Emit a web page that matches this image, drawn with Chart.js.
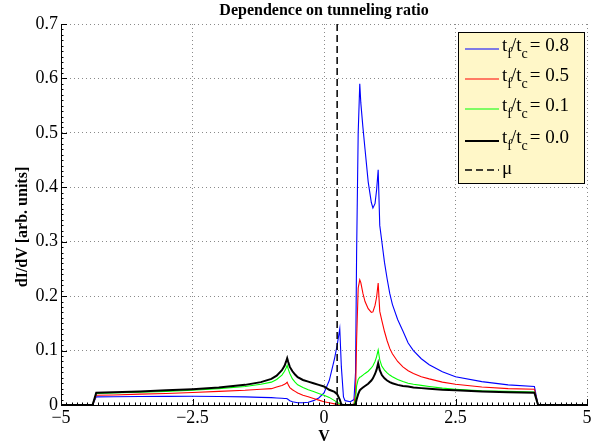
<!DOCTYPE html>
<html><head><meta charset="utf-8">
<script src="https://cdn.jsdelivr.net/npm/chart.js@4/dist/chart.umd.min.js"></script>
<style>html,body{margin:0;padding:0;background:#fff;overflow:hidden}</style>
</head><body>
<canvas id="c" width="592" height="447"></canvas>
<script>
// ---- data ----
const V = [-5, -4.4, -4.33, -4.0, -3.5, -3.0, -2.5, -2.0, -1.5, -1.2, -1.0, -0.9, -0.8, -0.75, -0.72, -0.70, -0.68, -0.65, -0.6, -0.55, -0.5, -0.4, -0.3, -0.2, -0.1, 0.0, 0.1, 0.2, 0.25, 0.3, 0.33, 0.37, 0.4, 0.5, 0.57, 0.6, 0.62, 0.65, 0.68, 0.70, 0.74, 0.78, 0.84, 0.9, 0.93, 0.97, 1.0, 1.03, 1.06, 1.1, 1.15, 1.2, 1.25, 1.3, 1.4, 1.5, 1.6, 1.7, 1.85, 2.0, 2.25, 2.5, 3.0, 3.5, 4.0, 4.07, 5];

const ratio08 = [0, 0, 0.015, 0.0152, 0.0155, 0.0158, 0.016, 0.0155, 0.015, 0.014, 0.0135, 0.013, 0.0125, 0.012, 0.012, 0.0115, 0.010, 0.008, 0.006, 0.005, 0.004, 0.004, 0.005, 0.008, 0.013, 0.022, 0.045, 0.085, 0.11, 0.14, 0.07, 0.015, 0.008, 0.006, 0.01, 0.06, 0.28, 0.50, 0.59,
  0.555, 0.51, 0.47, 0.41, 0.372, 0.362, 0.37, 0.395, 0.432, 0.33, 0.30, 0.262, 0.232, 0.205, 0.185, 0.157, 0.136, 0.114, 0.100, 0.085, 0.074, 0.061, 0.052, 0.043, 0.037, 0.034, 0, 0];

const ratio05 = [0, 0, 0.018, 0.0185, 0.020, 0.021, 0.023, 0.025, 0.027, 0.029, 0.030, 0.033, 0.036, 0.038, 0.040, 0.042, 0.037, 0.032, 0.028, 0.025, 0.022, 0.018, 0.015, 0.012, 0.009, 0.006, 0.004, 0.002, 0.001, 0, 0, 0, 0, 0, 0.002, 0.02, 0.12, 0.215, 0.23,
  0.225, 0.205, 0.19, 0.177, 0.170, 0.171, 0.183, 0.198, 0.224, 0.172, 0.155, 0.135, 0.118, 0.104, 0.094, 0.080, 0.070, 0.063, 0.058, 0.052, 0.048, 0.042, 0.038, 0.033, 0.030, 0.029, 0, 0];

const ratio01 = [0, 0, 0.021, 0.022, 0.0235, 0.025, 0.027, 0.030, 0.034, 0.038, 0.042, 0.047, 0.055, 0.062, 0.068, 0.073, 0.066, 0.058, 0.048, 0.042, 0.037, 0.032, 0.028, 0.025, 0.021, 0.018, 0.014, 0.008, 0.005, 0.002, 0.001, 0, 0, 0, 0.001, 0.010, 0.035, 0.047, 0.051,
  0.052, 0.055, 0.058, 0.062, 0.068, 0.072, 0.080, 0.089, 0.101, 0.083, 0.071, 0.064, 0.059, 0.055, 0.052, 0.047, 0.043, 0.040, 0.038, 0.036, 0.034, 0.031, 0.029, 0.026, 0.025, 0.024, 0, 0];

const ratio00 = [0, 0, 0.0226, 0.0235, 0.025, 0.027, 0.029, 0.032, 0.037, 0.042, 0.048, 0.054, 0.064, 0.072, 0.080, 0.086, 0.079, 0.070, 0.062, 0.056, 0.051, 0.046, 0.043, 0.040, 0.037, 0.034, 0.028, 0.024, 0.020, 0.010, 0.001, 0, 0, 0, 0, 0.002, 0.010, 0.020, 0.027,
  0.029, 0.032, 0.035, 0.039, 0.045, 0.049, 0.057, 0.065, 0.077, 0.064, 0.055, 0.049, 0.045, 0.042, 0.040, 0.037, 0.035, 0.034, 0.032, 0.031, 0.030, 0.028, 0.027, 0.025, 0.0235, 0.0226, 0, 0];

const muValue = 0.25;
const ratioLabels = ['0.8', '0.5', '0.1', '0.0'];
const xTickLabels = ['\u22125', '\u22122.5', '0', '2.5', '5'];
const yTickLabels = ['0', '0.1', '0.2', '0.3', '0.4', '0.5', '0.6', '0.7'];
const yAxisTitle = 'dI/dV [arb. units]';

// ---- chart ----
const series = [ratio08, ratio05, ratio01, ratio00];
const colors = ['#0000ff', '#ff0000', '#00ff00', '#000000'];
const widths = [1.1, 1.1, 1.1, 2];
const SERIF = 'Liberation Serif';

const datasets = series.map((s, k) => ({
  label: 't_f/t_c = ' + ratioLabels[k],
  data: V.map((v, i) => ({x: v, y: s[i]})),
  borderColor: colors[k],
  borderWidth: widths[k],
  pointRadius: 0,
  tension: 0,
  fill: false,
  order: 4 - k
}));
datasets.push({
  label: 'mu',
  data: [{x: muValue, y: 0}, {x: muValue, y: 0.7}],
  borderColor: '#000',
  borderWidth: 1.5,
  borderDash: [7, 4],
  pointRadius: 0,
  fill: false,
  order: 0
});

const innerTicks = {
  id: 'innerTicks',
  afterDraw(chart) {
    const {ctx, chartArea: a, scales: {x, y}} = chart;
    ctx.save();
    ctx.strokeStyle = '#000';
    ctx.lineWidth = 1;
    ctx.beginPath();
    for (let i = 0; i <= 100; i++) {
      const v = -5 + i * 0.1;
      const px = Math.round(x.getPixelForValue(v)) + 0.5;
      const len = (i % 25 === 0) ? 6 : 2.5;
      ctx.moveTo(px, a.bottom); ctx.lineTo(px, a.bottom - len);
    }
    for (let i = 0; i <= 70; i++) {
      const v = i * 0.01;
      const py = Math.round(y.getPixelForValue(v)) + 0.5;
      const len = (i % 10 === 0) ? 6 : 2.5;
      ctx.moveTo(a.left, py); ctx.lineTo(a.left + len, py);
    }
    ctx.stroke();
    // y axis title
    ctx.translate(23, 227);
    ctx.rotate(-Math.PI / 2);
    ctx.fillStyle = '#000';
    ctx.font = 'bold 16px "' + SERIF + '"';
    ctx.textAlign = 'center';
    ctx.textBaseline = 'middle';
    ctx.fillText(yAxisTitle, 0, 0);
    ctx.restore();
  }
};

const legendBox = {
  id: 'legendBox',
  afterDraw(chart) {
    const ctx = chart.ctx;
    const bx = 458, by = 32, bw = 126, bh = 151;
    ctx.save();
    ctx.fillStyle = '#fff7c8';
    ctx.fillRect(bx, by, bw, bh);
    ctx.strokeStyle = '#000';
    ctx.lineWidth = 1;
    ctx.strokeRect(bx + 0.5, by + 0.5, bw, bh);
    const rowY = [49, 79, 109, 141, 170];
    ctx.textBaseline = 'alphabetic';
    ctx.textAlign = 'left';
    const big = '19px "' + SERIF + '"';
    const small = '14px "' + SERIF + '"';
    for (let k = 0; k < 4; k++) {
      const yy = rowY[k];
      ctx.strokeStyle = colors[k];
      ctx.lineWidth = widths[k];
      ctx.beginPath(); ctx.moveTo(465, yy); ctx.lineTo(499, yy); ctx.stroke();
      ctx.fillStyle = '#000';
      let tx = 502;
      const base = yy + 2;
      ctx.font = big; ctx.fillText('t', tx, base); tx += ctx.measureText('t').width;
      ctx.font = small; ctx.fillText('f', tx, base + 7); tx += ctx.measureText('f').width - 1;
      ctx.font = big; ctx.fillText('/t', tx, base); tx += ctx.measureText('/t').width;
      ctx.font = small; ctx.fillText('c', tx, base + 7); tx += ctx.measureText('c').width + 2;
      ctx.font = big; ctx.fillText('= ' + ratioLabels[k], tx, base);
    }
    const yy = rowY[4];
    ctx.strokeStyle = '#000';
    ctx.lineWidth = 1.5;
    ctx.setLineDash([7, 4]);
    ctx.beginPath(); ctx.moveTo(465, yy); ctx.lineTo(499, yy); ctx.stroke();
    ctx.setLineDash([]);
    ctx.fillStyle = '#000';
    ctx.font = big;
    ctx.fillText('\u03bc', 502, yy + 4);
    ctx.restore();
  }
};

new Chart(document.getElementById('c'), {
  type: 'line',
  data: {datasets},
  options: {
    responsive: false,
    animation: false,
    devicePixelRatio: 1,
    layout: {padding: {left: 0, right: 5, top: 0, bottom: 0}},
    plugins: {
      legend: {display: false},
      tooltip: {enabled: false},
      title: {
        display: true, fullSize: false,
        text: 'Dependence on tunneling ratio',
        color: '#000',
        font: {family: SERIF, size: 16, weight: 'bold', lineHeight: 1.2},
        padding: {top: 1, bottom: 3.8}
      }
    },
    scales: {
      x: {
        type: 'linear', min: -5, max: 5,
        ticks: {
          stepSize: 2.5, autoSkip: false, maxRotation: 0, padding: 2,
          color: '#000', font: {family: SERIF, size: 18},
          callback: (v, i) => xTickLabels[i]
        },
        grid: {color: '#8a8a8a', lineWidth: 1, drawTicks: false},
        border: {display: true, color: '#000', width: 1, dash: [1, 3]},
        title: {display: true, text: 'V', color: '#000', font: {family: SERIF, size: 16, weight: 'bold', lineHeight: 1.2}, padding: {top: 0, bottom: 0.5}},
        afterFit: s => { s.height = 42; s.paddingLeft = 0; s.paddingRight = 0; }
      },
      y: {
        type: 'linear', min: 0, max: 0.7,
        ticks: {
          stepSize: 0.1, autoSkip: false, padding: 3,
          color: '#000', font: {family: SERIF, size: 18},
          callback: (v, i) => yTickLabels[i]
        },
        grid: {color: '#8a8a8a', lineWidth: 1, drawTicks: false},
        border: {display: true, color: '#000', width: 1, dash: [1, 3]},
        title: {display: false},
        afterFit: s => { s.width = 61; s.paddingTop = 0; s.paddingBottom = 0; }
      }
    }
  },
  plugins: [innerTicks, legendBox]
});
</script>
</body></html>
